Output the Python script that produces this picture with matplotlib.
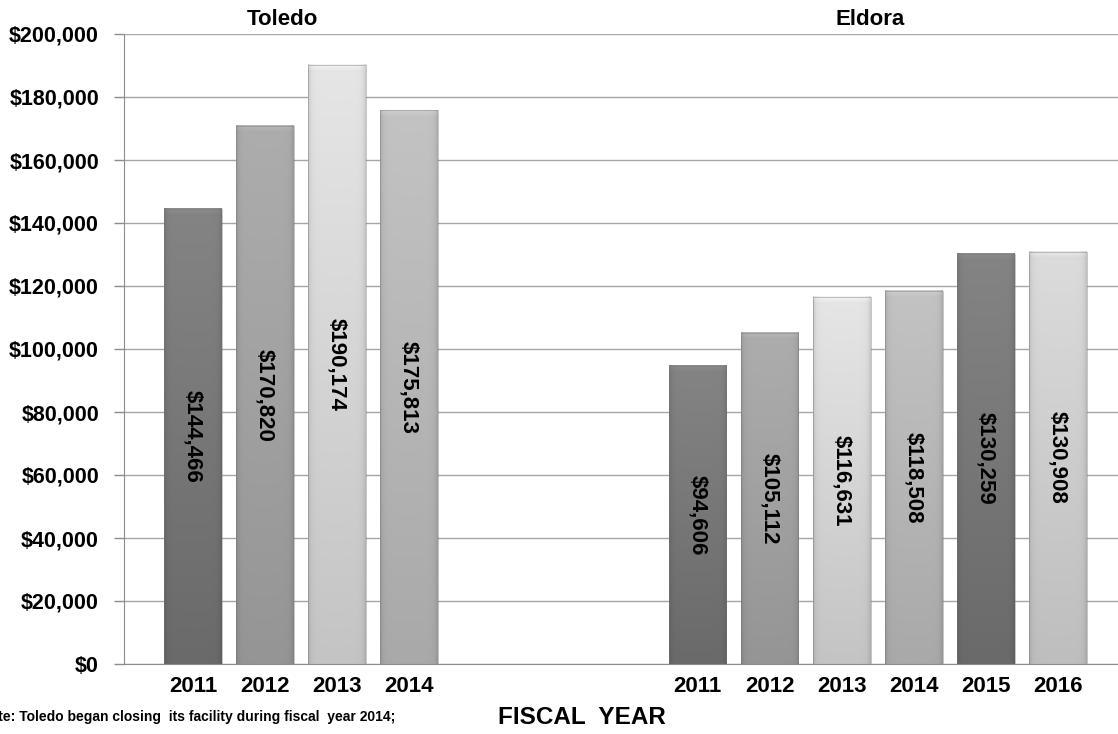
import numpy as np
import matplotlib
matplotlib.use("Agg")
import matplotlib.pyplot as plt
from matplotlib.colors import to_rgb

plt.rcParams['font.family'] = ['Liberation Sans', 'DejaVu Sans']

# ---- data ----
toledo_years = ["2011", "2012", "2013", "2014"]
toledo_values = [144466, 170820, 190174, 175813]
eldora_years = ["2011", "2012", "2013", "2014", "2015", "2016"]
eldora_values = [94606, 105112, 116631, 118508, 130259, 130908]
group_titles = ["Toledo", "Eldora"]
y_ticks = [0, 20000, 40000, 60000, 80000, 100000, 120000, 140000, 160000, 180000, 200000]

# shading styles (top color, bottom color)
shades = {
    "dark": ("#848484", "#6a6a6a"),
    "medium": ("#adadad", "#959595"),
    "light": ("#e6e6e6", "#c4c4c4"),
    "medlight": ("#c3c3c3", "#a9a9a9"),
    "light2": ("#dcdcdc", "#bebebe"),
}
toledo_shades = ["dark", "medium", "light", "medlight"]
eldora_shades = ["dark", "medium", "light", "medlight", "dark", "light2"]

W, H = 1118, 734
fig = plt.figure(figsize=(W / 100, H / 100), dpi=100)
ax = fig.add_axes([124 / W, 70 / H, (W - 124) / W, 630 / H])

toledo_pos = np.arange(len(toledo_values))
eldora_pos = np.arange(len(eldora_values)) + len(toledo_values) + 3
positions = list(toledo_pos) + list(eldora_pos)
values = toledo_values + eldora_values
years = toledo_years + eldora_years
styles = toledo_shades + eldora_shades

ax.set_xlim(-0.957, 12.833)
ax.set_ylim(0, 200000)

ax.set_yticks(y_ticks)
ax.set_yticklabels([f"${v:,}" for v in y_ticks], fontsize=15.5, fontweight="bold")
ax.yaxis.grid(True, color="#a6a6a6", linewidth=1.0)
ax.set_axisbelow(True)
ax.tick_params(axis="y", length=7, color="#8c8c8c", width=1, pad=11)
ax.set_xticks(positions)
ax.set_xticklabels(years, fontsize=16, fontweight="bold")
ax.tick_params(axis="x", length=0, pad=9)
for s in ["top", "right"]:
    ax.spines[s].set_visible(False)
ax.spines["left"].set_color("#8c8c8c")
ax.spines["bottom"].set_color("#8c8c8c")

bars = ax.bar(positions, values, width=0.8, color="none", edgecolor="none", zorder=2)

px_per_unit_y = 630 / 200000.0
for rect, style, v in zip(bars, styles, values):
    x0 = rect.get_x()
    w = rect.get_width()
    h = rect.get_height()
    top = np.array(to_rgb(shades[style][0]))
    bot = np.array(to_rgb(shades[style][1]))
    nrows = max(int(h * px_per_unit_y), 2)
    ncols = 58
    t = np.linspace(0, 1, nrows)[:, None, None]  # 0 bottom -> 1 top
    img = bot + (top - bot) * t
    img = np.repeat(img, ncols, axis=1)
    # side bevel darkening
    u = np.linspace(0, 1, ncols)
    edge = np.minimum(u, 1 - u) * ncols  # px from edge
    side = 1 - 0.12 * np.exp(-edge / 2.5)
    img = img * side[None, :, None]
    # top bevel highlight
    dist_top = (nrows - 1 - np.arange(nrows))
    hl = np.where(dist_top < 8, 1.06 - 0.01 * dist_top, 1.0)
    img = np.clip(img * hl[:, None, None], 0, 1)
    ax.imshow(img, extent=[x0, x0 + w, 0, h], origin="lower", aspect="auto",
              interpolation="bilinear", zorder=2)
    ax.add_patch(plt.Rectangle((x0, 0), w, h, fill=False, edgecolor="#7a7a7a",
                               linewidth=0.6, alpha=0.5, zorder=3))
    ax.text(x0 + w / 2, h / 2, f"${v:,}", rotation=-90, ha="center", va="center",
            fontsize=16, fontweight="bold", color="black", zorder=4)

ax.set_xlim(-0.957, 12.833)
ax.set_ylim(0, 200000)

# group titles
ax.text(1.235, 200000 + 14 / px_per_unit_y, group_titles[0],
        ha="center", va="center", fontsize=16, fontweight="bold", clip_on=False)
ax.text(9.39, 200000 + 14 / px_per_unit_y, group_titles[1],
        ha="center", va="center", fontsize=16, fontweight="bold", clip_on=False)

fig.text(582 / W, 1 - 718 / H, "FISCAL  YEAR", ha="center", va="center",
         fontsize=17.5, fontweight="bold")
fig.text(395 / W, 1 - 717 / H, "Note: Toledo began closing  its facility during fiscal  year 2014;",
         ha="right", va="center", fontsize=10, fontweight="bold")

fig.savefig("out.png", dpi=100)
